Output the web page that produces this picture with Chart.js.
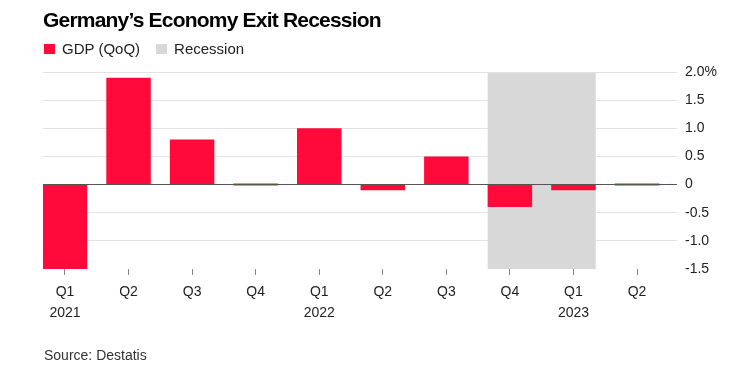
<!DOCTYPE html>
<html>
<head>
<meta charset="utf-8">
<script src="https://cdn.jsdelivr.net/npm/chart.js@4.4.1/dist/chart.umd.min.js"></script>
<style>
  body { margin: 0; background: #fff; font-family: "Liberation Sans", Arial, sans-serif; }
  #wrap { position: relative; width: 735px; height: 372px; overflow: hidden; }
  #wheel { position: absolute; left: 0; top: 0; }
  .title { position: absolute; left: 43px; top: 9px; font-size: 21px; line-height: 1; font-weight: bold; letter-spacing: -0.8px; color: #000; white-space: nowrap; }
  .legend { position: absolute; left: 44px; top: 41px; font-size: 15px; line-height: 15px; color: #222; white-space: nowrap; }
  .legend span { display: inline-block; vertical-align: top; }
  .legend .box { width: 11px; height: 10px; margin-top: 3px; margin-right: 7px; }
  .legend .gap { width: 16px; }
  .source { position: absolute; left: 44px; top: 348px; font-size: 14px; line-height: 1; color: #333; }
</style>
</head>
<body>
<div id="wrap">
  <canvas id="wheel" width="735" height="372"></canvas>
  <div class="title">Germany’s Economy Exit Recession</div>
  <div class="legend">
    <span class="box" id="gdp-box"></span><span>GDP (QoQ)</span><span class="gap"></span><span class="box" id="rec-box"></span><span>Recession</span>
  </div>
  <div class="source">Source: Destatis</div>
</div>
<script>
// data
const quarters = ["Q1", "Q2", "Q3", "Q4", "Q1", "Q2", "Q3", "Q4", "Q1", "Q2"];
const years = ["2021", "", "", "", "2022", "", "", "", "2023", ""];
const gdpQoQ = [-1.5, 1.9, 0.8, 0.0, 1.0, -0.1, 0.5, -0.4, -0.1, 0.0];
const recession = [0, 0, 0, 0, 0, 0, 0, 1, 1, 0];
const yTicks = [-1.5, -1.0, -0.5, 0, 0.5, 1.0, 1.5, 2.0];

const red = "#ff0a3a";
const grey = "#d8d8d8";
document.getElementById("gdp-box").style.background = red;
document.getElementById("rec-box").style.background = grey;

Chart.defaults.font.family = '"Liberation Sans", Arial, sans-serif';

// grey band behind the recession quarters, from first bar's left edge to last bar's right edge
const recessionBand = {
  id: "recessionBand",
  beforeDatasetsDraw(chart) {
    const meta = chart.getDatasetMeta(0);
    const y = chart.scales.y;
    const idx = recession.map((r, i) => r ? i : -1).filter(i => i >= 0);
    if (!idx.length) return;
    const first = meta.data[idx[0]];
    const last = meta.data[idx[idx.length - 1]];
    const left = first.x - first.width / 2;
    const right = last.x + last.width / 2;
    const top = y.getPixelForValue(yTicks[yTicks.length - 1]) + 1;
    const bottom = y.getPixelForValue(yTicks[0]);
    const ctx = chart.ctx;
    ctx.save();
    ctx.fillStyle = grey;
    ctx.fillRect(left, top, right - left, bottom - top);
    ctx.restore();
  }
};

// zero line goes over the bars
const zeroLine = {
  id: "zeroLine",
  afterDatasetsDraw(chart) {
    const y = Math.round(chart.scales.y.getPixelForValue(0)) - 0.5;
    const ctx = chart.ctx;
    ctx.save();
    ctx.strokeStyle = "#555";
    ctx.lineWidth = 1;
    ctx.beginPath();
    ctx.moveTo(chart.chartArea.left, y);
    ctx.lineTo(chart.chartArea.right, y);
    ctx.stroke();
    ctx.restore();
  }
};

const myChart = new Chart(document.getElementById("wheel"), {
  type: "bar",
  plugins: [recessionBand, zeroLine],
  data: {
    datasets: [{
      label: "GDP (QoQ)",
      data: gdpQoQ.map((v, i) => ({ x: i, y: v })),
      backgroundColor: red,
      barPercentage: 0.7,
      categoryPercentage: 1,
      minBarLength: 2
    }]
  },
  options: {
    responsive: false,
    animation: false,
    layout: { padding: { top: 72, left: 43, right: 0, bottom: 0 } },
    plugins: {
      legend: { display: false },
      tooltip: { enabled: false }
    },
    scales: {
      x: {
        type: "linear",
        offset: false,
        min: -0.346,
        max: 9.629,
        border: { display: false },
        grid: { offset: false, drawOnChartArea: false, drawTicks: true, tickLength: 6, tickColor: "#888" },
        afterBuildTicks: (s) => { s.ticks = quarters.map((q, i) => ({ value: i })); },
        afterFit: (s) => { s.height = 103; },
        ticks: {
          autoSkip: false,
          maxRotation: 0,
          padding: 7,
          color: "#222",
          font: { size: 14, lineHeight: 1.5 },
          callback: (v) => years[v] ? [quarters[v], years[v]] : quarters[v]
        }
      },
      y: {
        position: "right",
        min: -1.5,
        max: 2.0,
        border: { display: false },
        afterBuildTicks: (s) => { s.ticks = yTicks.map(v => ({ value: v })); },
        afterFit: (s) => { s.width = 58; },
        grid: {
          drawTicks: false,
          color: (c) => (c.tick && (c.tick.value === 0 || c.tick.value === -1.5)) ? "rgba(0,0,0,0)" : "#e2e2e2"
        },
        ticks: {
          padding: 8,
          color: "#222",
          font: { size: 14 },
          callback: (v) => v === 2 ? "2.0%" : (v === 0 ? "0" : v.toFixed(1))
        }
      }
    }
  }
});
</script>
</body>
</html>
